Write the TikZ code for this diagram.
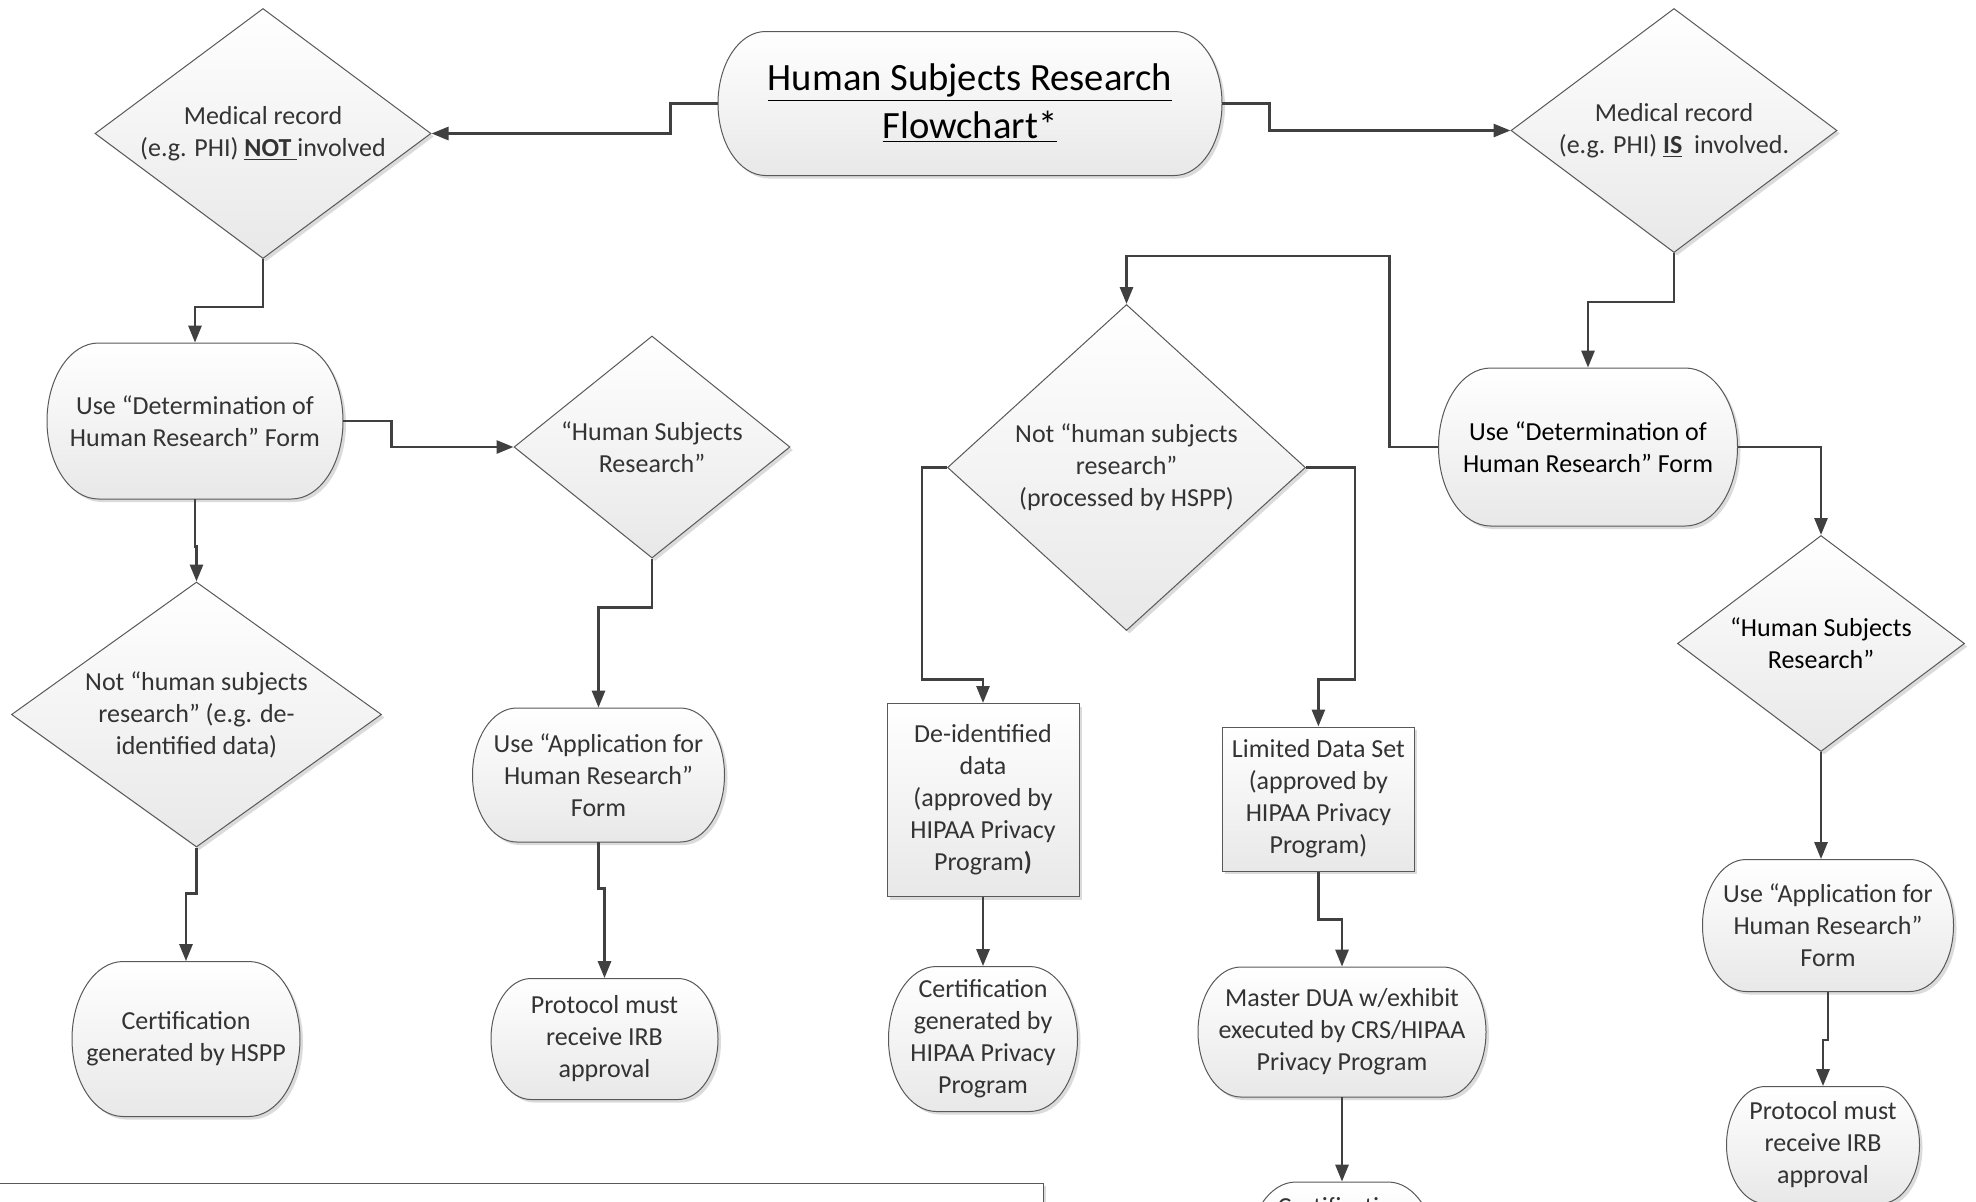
\documentclass[tikz,border=0pt]{standalone}
\usepackage{fontspec}
\setmainfont{Carlito}
\usetikzlibrary{shapes.geometric,arrows.meta,shadows,calc}
\definecolor{bord}{HTML}{595959}
\definecolor{conncol}{HTML}{404040}
\definecolor{txtc}{HTML}{333333}
\definecolor{fillbot}{HTML}{E8E8E8}
\tikzset{
 shp/.style={draw=bord, line width=0.5pt, top color=white, bottom color=fillbot,
   drop shadow={opacity=0.28, shadow xshift=1.5pt, shadow yshift=-1.5pt}},
 lbl/.style={font=\fontsize{13pt}{16pt}\selectfont, text=txtc, align=center, inner sep=0pt},
 dia/.style={shp, lbl, shape=diamond, aspect=1.4},
 box/.style={shp, lbl, shape=rectangle},
 termtext/.style={lbl, draw=none, shape=rectangle},
 conn/.style={draw=conncol, line width=1.4pt, -{Triangle[length=8.5pt,width=6.5pt]}},
 titletext/.style={font=\fontsize{19.3pt}{24pt}\selectfont, text=black},
}
% terminator: [style] name, cx, cy, w, h (px), text
\newcommand\term[7][]{%
 \pgfmathsetmacro\myL{#3-#5/2}\pgfmathsetmacro\myR{#3+#5/2}%
 \pgfmathsetmacro\myT{#4-#6/2}\pgfmathsetmacro\myB{#4+#6/2}%
 \pgfmathsetmacro\myr{0.33*#6}\pgfmathsetmacro\myk{0.4477*\myr}%
 \pgfmathsetmacro\myv{0.5523*#6/2}%
 \pgfmathsetmacro\myW{#5*0.5}\pgfmathsetmacro\myH{#6*0.5}%
 \path[shp] (\myL+\myr,\myT) -- (\myR-\myr,\myT)
   .. controls (\myR-\myk,\myT) and (\myR,#4-\myv) .. (\myR,#4)
   .. controls (\myR,#4+\myv) and (\myR-\myk,\myB) .. (\myR-\myr,\myB)
   -- (\myL+\myr,\myB)
   .. controls (\myL+\myk,\myB) and (\myL,#4+\myv) .. (\myL,#4)
   .. controls (\myL,#4-\myv) and (\myL+\myk,\myT) .. (\myL+\myr,\myT) -- cycle;
 \node[termtext, minimum width=\myW pt, minimum height=\myH pt, #1] (#2) at (#3,#4) {#7};%
}
\begin{document}
\begin{tikzpicture}[x=0.5pt, y=-0.5pt]
\useasboundingbox (0,0) rectangle (1976,1201);
\fill[white] (0,0) rectangle (1976,1201);
\clip (0,0) rectangle (1976,1201);

% title
\term[titletext]{T0}{970}{103.5}{504}{144}{\underline{Human Subjects Research}\\\underline{Flowchart*}}

% diamonds
\node[dia, minimum width=168pt, minimum height=125pt] (D1) at (263,133.5)
  {Medical record\\(e.g. PHI) \underline{\textbf{NOT }}involved};
\node[dia, minimum width=163pt, minimum height=122pt] (D2) at (1674,130.5)
  {Medical record\\(e.g. PHI) \underline{\textbf{IS}}~ involved.};
\node[dia, minimum width=138pt, minimum height=111pt] (D6) at (652,447)
  {“Human Subjects\\Research”};
\node[dia, minimum width=185pt, minimum height=132.5pt] (D4) at (196.5,714.5)
  {Not “human subjects\\research” (e.g. de-\\identified data)};
\node[dia, minimum width=179pt, minimum height=163pt] (D3) at (1126.5,467.5)
  {Not “human subjects\\research”\\(processed by HSPP)};
\node[dia, minimum width=143.5pt, minimum height=108pt, text=black] (D5) at (1821,643.5)
  {“Human Subjects\\Research”};

% terminators
\term{U1}{195}{421}{296}{156}{Use “Determination of\\Human Research” Form}
\term[text=black]{U2}{1588}{447}{299}{158}{Use “Determination of\\Human Research” Form}
\term{U3}{598.5}{775}{252}{134}{Use “Application for\\Human Research”\\Form}
\term{U4}{1828}{925.5}{251}{132}{Use “Application for\\Human Research”\\Form}
\term{U5}{604.5}{1039}{227}{121}{Protocol must\\receive IRB\\approval}
\term{U6}{1823}{1145}{193}{117}{Protocol must\\receive IRB\\approval}
\term{U7}{186}{1039}{228}{155}{Certification\\generated by HSPP}
\term{U8}{983}{1039}{189}{145}{Certification\\generated by\\HIPAA Privacy\\Program}
\term{U9}{1342}{1032}{288}{130}{Master DUA w/exhibit\\executed by CRS/HIPAA\\Privacy Program}
\term{U10}{1342}{1254.5}{188}{145}{}
\node[lbl] (U10t) at (1342,1207) {Certification};

% rectangles
\node[box, minimum width=96pt, minimum height=96.5pt] (R1) at (983,800)
  {De-identified\\data\\(approved by\\HIPAA Privacy\\Program\textbf{)}};
\node[box, minimum width=96pt, minimum height=72pt] (R2) at (1318.4,799)
  {Limited Data Set\\(approved by\\HIPAA Privacy\\Program)};

% bottom-left box (cut off)
\node[box, top color=white, bottom color=white, minimum width=526.5pt, minimum height=68.5pt] (LB) at (516.5,1251.5) {};

% connectors
\draw[conn] (T0.west) -- ++(-47,0) |- (D1.east);
\draw[conn] (T0.east) -- ++(47,0) |- (D2.west);
\draw[conn] (D1.south) -- ++(0,48) -| (U1.north);
\draw[conn] (D2.south) -- ++(0,49) -| (U2.north);
\draw[conn] (U1.south) -- ++(0,47) -| (D4.north);
\draw[conn] (U1.east) -- ++(48,0) |- (D6.west);
\draw[conn] (D6.south) -- ++(0,49) -| (U3.north);
\draw[conn] (U3.south) -- ++(0,46) -| (U5.north);
\draw[conn] (D4.south) -- ++(0,46) -| (U7.north);
\draw[conn] (U2.west) -- ++(-49,0) |- ([yshift=24pt]D3.north) -- (D3.north);
\draw[conn] (U2.east) -| (D5.north);
\draw[conn] (D5.south) -- (D5.south |- U4.north);
\draw[conn] (U4.south) -- ++(0,48) -| (U6.north);
\draw[conn] (D3.west) -- ++(-25,0) |- ([yshift=11.75pt]R1.north) -- (R1.north);
\draw[conn] (D3.east) -- ++(49,0) |- ([yshift=23.5pt]R2.north) -- (R2.north);
\draw[conn] (R1.south) -- (U8.north);
\draw[conn] (R2.south) -- ++(0,48) -| (U9.north);
\draw[conn] (U9.south) -- (U10.north);
\end{tikzpicture}
\end{document}
